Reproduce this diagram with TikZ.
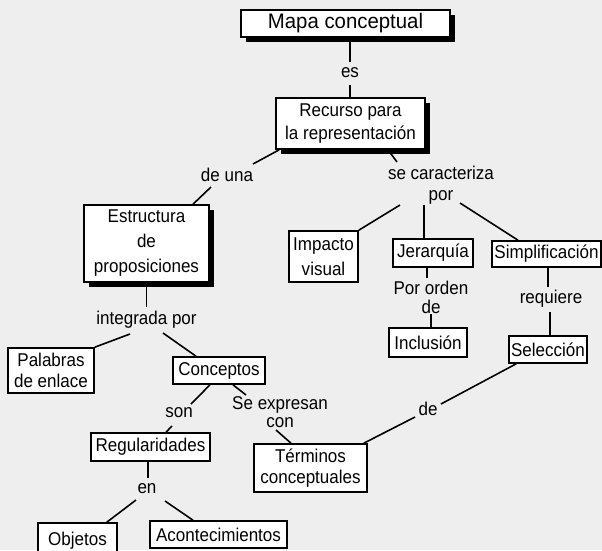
\documentclass[tikz,border=0pt]{standalone}
\usepackage{fontspec}
\setmainfont{Liberation Sans}[FakeStretch=0.92]
\newfontfamily\titlefont{Liberation Sans}[FakeStretch=0.97]
\usetikzlibrary{shadows}
\definecolor{bgc}{HTML}{EEEEEE}
\begin{document}
\begin{tikzpicture}[x=1pt,y=-1pt,
  every node/.style={font=\fontsize{18.5}{21}\selectfont},
  box/.style={draw=black, line width=1.6pt, fill=white, inner sep=0pt, align=center},
  shbox/.style={box, drop shadow={shadow xshift=5pt, shadow yshift=-5pt, opacity=1, fill=black}},
  lbl/.style={inner sep=0pt, align=center},
  conn/.style={line width=1.6pt}]
\useasboundingbox (0,0) rectangle (602,550);
\fill[bgc] (0,0) rectangle (602,550);

\node[shbox, minimum width=209pt, minimum height=27pt, font=\titlefont\fontsize{21}{24}\selectfont] (mapa) at (345.5,23.5) {Mapa conceptual};
\node[lbl] (es) at (350,73) {es};
\node[shbox, minimum width=149pt, minimum height=51pt] (recurso) at (350.5,123.5) {Recurso para\\[2pt]la representación};
\node[lbl] (deuna) at (227,175) {de una};
\node[lbl] (secar) at (441,185.5) {se caracteriza\\por};
\node[shbox, minimum width=125pt, minimum height=77pt] (estructura) at (146.5,243.5) {Estructura\\[4pt]de\\[4pt]proposiciones};
\node[lbl] (integrada) at (146.5,320) {integrada por};
\node[box, minimum width=86pt, minimum height=45pt] (palabras) at (51,370.5) {Palabras\\de enlace};
\node[box, minimum width=92pt, minimum height=27pt] (conceptos) at (219,370.5) {Conceptos};
\node[box, minimum width=69pt, minimum height=51pt] (impacto) at (323.5,256.5) {Impacto\\[4pt]visual};
\node[box, minimum width=80pt, minimum height=28pt] (jerarquia) at (433,253) {Jerarquía};
\node[lbl] (porden) at (431,297.5) {Por orden\\[-2pt]de};
\node[box, minimum width=78pt, minimum height=29pt] (inclusion) at (428,342.5) {Inclusión};
\node[box, minimum width=109pt, minimum height=26pt] (simpl) at (546.5,254) {Simplificación};
\node[lbl] (requiere) at (551,299) {requiere};
\node[box, minimum width=78pt, minimum height=27pt] (seleccion) at (548,349.5) {Selección};
\node[lbl] (son) at (179,413) {son};
\node[lbl] (seexp) at (280,412) {Se expresan\\[-3pt]con};
\node[box, minimum width=119pt, minimum height=28pt] (regular) at (150.5,447) {Regularidades};
\node[box, minimum width=113pt, minimum height=48pt] (terminos) at (310.5,468) {Términos\\conceptuales};
\node[lbl] (de) at (428,409) {de};
\node[lbl] (en) at (147,489) {en};
\node[box, minimum width=79pt, minimum height=36pt] (objetos) at (77.5,541) {Objetos};
\node[box, minimum width=137pt, minimum height=27pt] (acontec) at (218.5,534.5) {Acontecimientos};

\draw[conn] (mapa.south -| es.center) -- ([shift={(0,-11)}]es.center);
\draw[conn] ([shift={(0,12)}]es.center) -- (es.center |- recurso.north);
\draw[conn] ([xshift=4pt]recurso.south west) -- ([shift={(26,-11)}]deuna.center);
\draw[conn] ([shift={(-16,12)}]deuna.center) -- ([xshift=46.5pt]estructura.north);
\draw[conn] ([xshift=37.5pt]recurso.south) -- ([shift={(-44,-23.5)}]secar.center);
\draw[conn] ([shift={(-41,19.5)}]secar.center) -- (impacto.north east);
\draw[conn] ([shift={(-17,19.5)}]secar.center) -- ([xshift=-9pt]jerarquia.north);
\draw[conn] ([shift={(19,17.5)}]secar.center) -- ([xshift=-28.5pt]simpl.north);
\draw[conn] ([xshift=-6pt]jerarquia.south) -- ([shift={(-4,-19.5)}]porden.center);
\draw[conn] ([shift={(0,16.5)}]porden.center) -- ([xshift=3pt]inclusion.north);
\draw[conn] ([xshift=1.5pt]simpl.south) -- ([shift={(-3,-12)}]requiere.center);
\draw[conn] ([shift={(-1,13)}]requiere.center) -- ([xshift=2pt]seleccion.north);
\draw[conn] ([xshift=8pt]seleccion.south west) -- ([shift={(13,-5)}]de.center);
\draw[conn] ([shift={(-13,8)}]de.center) -- ([xshift=-4pt]terminos.north east);
\draw[conn] (estructura.south) -- ([shift={(0,-13)}]integrada.center);
\draw[conn] ([shift={(-16.5,14)}]integrada.center) -- (palabras.north east);
\draw[conn] ([shift={(16.5,13)}]integrada.center) -- ([xshift=-23pt]conceptos.north);
\draw[conn] ([xshift=-9pt]conceptos.south) -- ([shift={(12,-9)}]son.center);
\draw[conn] ([shift={(-7,13)}]son.center) -- ([xshift=15.5pt]regular.north);
\draw[conn] ([xshift=14pt]conceptos.south) -- ([shift={(-34,-17)}]seexp.center);
\draw[conn] ([shift={(-4,18)}]seexp.center) -- ([xshift=-19.5pt]terminos.north);
\draw[conn] ([xshift=-2.5pt]regular.south) -- ([shift={(1,-11)}]en.center);
\draw[conn] ([shift={(-11,11)}]en.center) -- ([xshift=-11pt]objetos.north east);
\draw[conn] ([shift={(18,12)}]en.center) -- ([xshift=-25.5pt]acontec.north);
\end{tikzpicture}
\end{document}
